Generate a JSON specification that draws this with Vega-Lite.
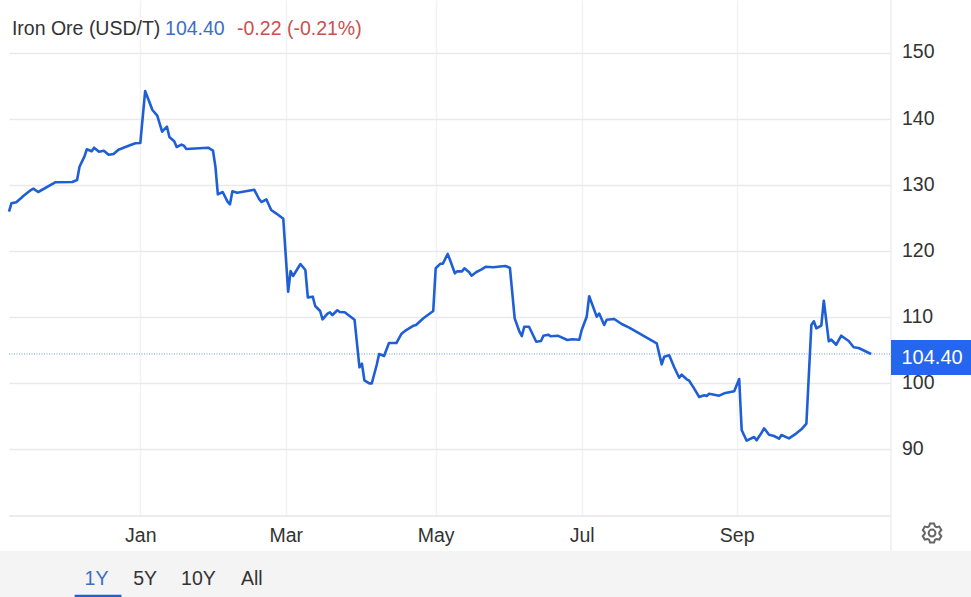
{
"$schema":"https://vega.github.io/schema/vega-lite/v6.json",
"width":882,"height":516,
"autosize":{"type":"none"},
"padding":{"left":9,"top":0,"right":80,"bottom":81},
"background":"#ffffff",
"config":{"view":{"stroke":null},"font":"Liberation Sans",
 "axisX":{"title":null,"grid":true,"gridColor":"#f0f2f6","gridWidth":1.5,"domain":false,"ticks":false,"labelFontSize":19.5,"labelColor":"#333333","labelPadding":10,"labelFont":"Liberation Sans"},
 "axisY":{"title":null,"grid":true,"gridColor":"#e9e9ec","gridWidth":1.5,"domain":false,"ticks":false,"labelFontSize":19.5,"labelColor":"#333333","labelPadding":10.5,"labelOffset":-1,"labelFont":"Liberation Sans"}
},
"layer":[
{"data":{"values":[{"d":"2023-09-01","d1":"2025-03-01","v":60,"v1":74.55}]},
 "mark":{"type":"rect","fill":"#f4f4f4"},
 "encoding":{"x":{"field":"d","type":"temporal"},"x2":{"field":"d1"},"y":{"field":"v","type":"quantitative"},"y2":{"field":"v1"}}},
{"data":{"values":[{"d":"2023-11-08","v":79.85},{"d":"2024-11-02","v":79.85}]},
 "mark":{"type":"line","stroke":"#e6e6e8","strokeWidth":1.5},
 "encoding":{"x":{"field":"d","type":"temporal"},"y":{"field":"v","type":"quantitative"}}},
{"data":{"values":[{"d":"2024-11-02","v":158,"v1":74.55}]},
 "mark":{"type":"rule","stroke":"#eceef2","strokeWidth":1.5},
 "encoding":{"x":{"field":"d","type":"temporal"},"y":{"field":"v","type":"quantitative"},"y2":{"field":"v1"}}},
{"data":{"values":[{"d":"2023-11-08","d1":"2024-11-02","v":104.4}]},
 "mark":{"type":"rule","stroke":"#6f97d8","strokeWidth":1,"strokeDash":[1,1.5]},
 "encoding":{"x":{"field":"d","type":"temporal"},"x2":{"field":"d1"},"y":{"field":"v","type":"quantitative"}}},
{"data":{"values":[
{"d":"2023-11-08","price":125.95},{"d":"2023-11-09","price":127.23},{"d":"2023-11-11","price":127.38},{"d":"2023-11-13","price":128.03},{"d":"2023-11-14","price":128.38},{"d":"2023-11-17","price":129.24},{"d":"2023-11-18","price":129.44},{"d":"2023-11-20","price":128.94},{"d":"2023-11-27","price":130.41},{"d":"2023-12-04","price":130.45},{"d":"2023-12-06","price":130.76},{"d":"2023-12-07","price":132.77},{"d":"2023-12-09","price":134.29},{"d":"2023-12-10","price":135.41},{"d":"2023-12-12","price":135.11},{"d":"2023-12-13","price":135.65},{"d":"2023-12-15","price":135.05},{"d":"2023-12-17","price":135.2},{"d":"2023-12-19","price":134.59},{"d":"2023-12-21","price":134.7},{"d":"2023-12-23","price":135.35},{"d":"2023-12-28","price":136.06},{"d":"2023-12-30","price":136.32},{"d":"2024-01-01","price":136.36},
{"d":"2024-01-03","price":144.24},{"d":"2024-01-06","price":141.36},{"d":"2024-01-08","price":140.5},{"d":"2024-01-10","price":138.08},{"d":"2024-01-12","price":138.83},{"d":"2024-01-13","price":137.27},{"d":"2024-01-15","price":136.62},{"d":"2024-01-16","price":135.76},{"d":"2024-01-18","price":136.11},{"d":"2024-01-19","price":135.95},{"d":"2024-01-20","price":135.45},{"d":"2024-01-29","price":135.65},{"d":"2024-01-31","price":135.2},{"d":"2024-02-01","price":132.77},{"d":"2024-02-02","price":128.59},{"d":"2024-02-04","price":128.94},{"d":"2024-02-06","price":127.47},{"d":"2024-02-07","price":127.08},{"d":"2024-02-08","price":129.05},{"d":"2024-02-10","price":128.83},{"d":"2024-02-17","price":129.29},{"d":"2024-02-19","price":127.88},{"d":"2024-02-20","price":127.42},{"d":"2024-02-22","price":127.83},{"d":"2024-02-24","price":126.21},{"d":"2024-02-26","price":125.71},{"d":"2024-02-29","price":124.89},
{"d":"2024-03-02","price":113.83},{"d":"2024-03-03","price":116.97},{"d":"2024-03-04","price":116.21},{"d":"2024-03-07","price":118.03},{"d":"2024-03-09","price":117.12},{"d":"2024-03-10","price":112.98},{"d":"2024-03-12","price":113.08},{"d":"2024-03-13","price":111.67},{"d":"2024-03-15","price":110.91},{"d":"2024-03-16","price":109.65},{"d":"2024-03-18","price":110.5},{"d":"2024-03-19","price":110.71},{"d":"2024-03-20","price":110.3},{"d":"2024-03-22","price":111.02},{"d":"2024-03-23","price":110.76},{"d":"2024-03-25","price":110.71},{"d":"2024-03-29","price":109.59},{"d":"2024-03-31","price":102.38},{"d":"2024-04-01","price":102.92},{"d":"2024-04-02","price":100.41},{"d":"2024-04-04","price":99.95},{"d":"2024-04-05","price":99.95},{"d":"2024-04-07","price":102.73},{"d":"2024-04-08","price":104.39},{"d":"2024-04-10","price":104.09},{"d":"2024-04-12","price":106.06},{"d":"2024-04-15","price":106.06},{"d":"2024-04-17","price":107.42},{"d":"2024-04-19","price":108.03},{"d":"2024-04-22","price":108.68},{"d":"2024-04-23","price":108.79},{"d":"2024-04-26","price":109.8},{"d":"2024-04-30","price":110.91},
{"d":"2024-05-01","price":117.38},{"d":"2024-05-03","price":118.08},{"d":"2024-05-04","price":118.08},{"d":"2024-05-06","price":119.55},{"d":"2024-05-07","price":118.64},{"d":"2024-05-09","price":116.62},{"d":"2024-05-10","price":116.92},{"d":"2024-05-12","price":116.92},{"d":"2024-05-13","price":117.38},{"d":"2024-05-15","price":116.77},{"d":"2024-05-16","price":116.26},{"d":"2024-05-18","price":116.82},{"d":"2024-05-20","price":117.17},{"d":"2024-05-22","price":117.62},{"d":"2024-05-25","price":117.53},{"d":"2024-05-30","price":117.73},{"d":"2024-06-01","price":117.47},{"d":"2024-06-03","price":109.8},{"d":"2024-06-05","price":107.77},{"d":"2024-06-06","price":107.12},{"d":"2024-06-07","price":108.53},{"d":"2024-06-09","price":108.53},{"d":"2024-06-12","price":106.26},{"d":"2024-06-14","price":106.36},{"d":"2024-06-15","price":107.17},{"d":"2024-06-17","price":107.32},{"d":"2024-06-18","price":107.08},{"d":"2024-06-21","price":107.17},{"d":"2024-06-25","price":106.52},{"d":"2024-06-27","price":106.62},{"d":"2024-06-30","price":106.56},
{"d":"2024-07-01","price":108.03},{"d":"2024-07-03","price":110.05},{"d":"2024-07-04","price":113.14},{"d":"2024-07-07","price":110.05},{"d":"2024-07-08","price":110.53},{"d":"2024-07-10","price":108.79},{"d":"2024-07-11","price":109.59},{"d":"2024-07-14","price":109.7},{"d":"2024-07-17","price":108.94},{"d":"2024-07-20","price":108.38},{"d":"2024-07-31","price":106.02},{"d":"2024-08-02","price":102.83},{"d":"2024-08-03","price":103.98},{"d":"2024-08-05","price":104.2},{"d":"2024-08-07","price":102.38},{"d":"2024-08-09","price":100.8},{"d":"2024-08-10","price":101.26},{"d":"2024-08-12","price":100.56},{"d":"2024-08-13","price":100.35},{"d":"2024-08-15","price":99.14},{"d":"2024-08-17","price":97.88},{"d":"2024-08-19","price":98.14},{"d":"2024-08-20","price":98.03},{"d":"2024-08-21","price":98.38},{"d":"2024-08-25","price":98.08},{"d":"2024-08-27","price":98.44},{"d":"2024-08-31","price":98.74},
{"d":"2024-09-02","price":100.61},{"d":"2024-09-03","price":92.88},{"d":"2024-09-05","price":91.26},{"d":"2024-09-08","price":91.82},{"d":"2024-09-09","price":91.32},{"d":"2024-09-11","price":92.47},{"d":"2024-09-12","price":93.14},{"d":"2024-09-14","price":92.17},{"d":"2024-09-16","price":91.97},{"d":"2024-09-18","price":91.56},{"d":"2024-09-19","price":92.12},{"d":"2024-09-22","price":91.62},{"d":"2024-09-25","price":92.38},{"d":"2024-09-27","price":92.98},{"d":"2024-09-29","price":93.83},{"d":"2024-10-01","price":108.79},{"d":"2024-10-02","price":109.35},{"d":"2024-10-03","price":108.29},{"d":"2024-10-05","price":108.68},{"d":"2024-10-06","price":112.47},{"d":"2024-10-08","price":106.32},{"d":"2024-10-09","price":106.56},{"d":"2024-10-11","price":105.8},{"d":"2024-10-13","price":107.17},{"d":"2024-10-16","price":106.36},{"d":"2024-10-18","price":105.41},{"d":"2024-10-20","price":105.3},{"d":"2024-10-25","price":104.4}
]},
 "mark":{"type":"line","stroke":"#1f5fd6","strokeWidth":2.6,"strokeJoin":"round"},
 "encoding":{
  "x":{"field":"d","type":"temporal",
   "scale":{"type":"utc","nice":false,
    "domainRaw":{"expr":"[utc(2023,10,8),utc(2024,0,1),utc(2024,2,1),utc(2024,4,1),utc(2024,6,1),utc(2024,8,1),utc(2024,10,2)]"},
    "range":[0,131.3,276.7,426.7,572.7,727.7,882]},
   "axis":{"values":[{"year":2024,"month":1,"date":1,"utc":true},{"year":2024,"month":3,"date":1,"utc":true},{"year":2024,"month":5,"date":1,"utc":true},{"year":2024,"month":7,"date":1,"utc":true},{"year":2024,"month":9,"date":1,"utc":true}],"format":"%b"}},
  "y":{"field":"price","type":"quantitative",
   "scale":{"domain":[79.85,158.03],"nice":false,"zero":false},
   "axis":{"orient":"right","values":[90,100,110,120,130,140,150]}}
 }},
{"data":{"values":[{"d":"2024-11-02","d1":"2025-03-01","v":101.21,"v1":106.52}]},
 "mark":{"type":"rect","fill":"#2566ee"},
 "encoding":{"x":{"field":"d","type":"temporal"},"x2":{"field":"d1"},"y":{"field":"v","type":"quantitative"},"y2":{"field":"v1"}}},
{"data":{"values":[{"d":"2024-11-18T12:00:00Z","v":103.8,"label":"104.40"}]},
 "mark":{"type":"text","align":"center","baseline":"middle","fontSize":20,"fill":"#ffffff"},
 "encoding":{"x":{"field":"d","type":"temporal"},"y":{"field":"v","type":"quantitative"},"text":{"field":"label"}}},
{"data":{"values":[{"d":"2023-11-09T05:00:00Z","v":153.64,"label":"Iron Ore (USD/T)","kind":"name"},{"d":"2024-01-11T05:00:00Z","v":153.64,"label":"104.40","kind":"last"},{"d":"2024-02-09T22:00:00Z","v":153.64,"label":"-0.22 (-0.21%)","kind":"change"}]},
 "mark":{"type":"text","align":"left","baseline":"middle","fontSize":19.5},
 "encoding":{"x":{"field":"d","type":"temporal"},"y":{"field":"v","type":"quantitative"},"text":{"field":"label"},
  "color":{"field":"kind","type":"nominal","legend":null,"scale":{"domain":["name","last","change","on","off"],"range":["#333333","#3a6fc4","#c9504f","#3a6fc4","#333333"]}}}},
{"data":{"values":[{"d":"2023-12-14","v":70.3,"label":"1Y","kind":"on"},{"d":"2024-01-03","v":70.3,"label":"5Y","kind":"off"},{"d":"2024-01-25","v":70.3,"label":"10Y","kind":"off"},{"d":"2024-02-16","v":70.3,"label":"All","kind":"off"}]},
 "mark":{"type":"text","align":"center","baseline":"middle","fontSize":19.5},
 "encoding":{"x":{"field":"d","type":"temporal"},"y":{"field":"v","type":"quantitative"},"text":{"field":"label"},
  "color":{"field":"kind","type":"nominal","legend":null,"scale":{"domain":["name","last","change","on","off"],"range":["#333333","#3a6fc4","#c9504f","#3a6fc4","#333333"]}}}},
{"data":{"values":[{"d":"2023-12-05","d1":"2023-12-24T06:00:00Z","v":67.5,"v1":67.9}]},
 "mark":{"type":"rect","fill":"#1f5fd6"},
 "encoding":{"x":{"field":"d","type":"temporal"},"x2":{"field":"d1"},"y":{"field":"v","type":"quantitative"},"y2":{"field":"v1"}}},
{"data":{"values":[{"d":"2024-11-18T12:00:00Z","v":77.27}]},
 "mark":{"type":"point","filled":false,"stroke":"#666666","strokeWidth":2,"opacity":1,"size":380,
  "shape":"M0.305,-0.685L0.208,-0.978L-0.208,-0.978L-0.305,-0.685L-0.441,-0.607L-0.743,-0.669L-0.951,-0.309L-0.746,-0.078L-0.746,0.078L-0.951,0.309L-0.743,0.669L-0.441,0.607L-0.305,0.685L-0.208,0.978L0.208,0.978L0.305,0.685L0.441,0.607L0.743,0.669L0.951,0.309L0.746,0.078L0.746,-0.078L0.951,-0.309L0.743,-0.669L0.441,-0.607ZM0.35,0A0.35,0.35 0 1,0 -0.35,0A0.35,0.35 0 1,0 0.35,0Z"},
 "encoding":{"x":{"field":"d","type":"temporal"},"y":{"field":"v","type":"quantitative"}}}
]
}
